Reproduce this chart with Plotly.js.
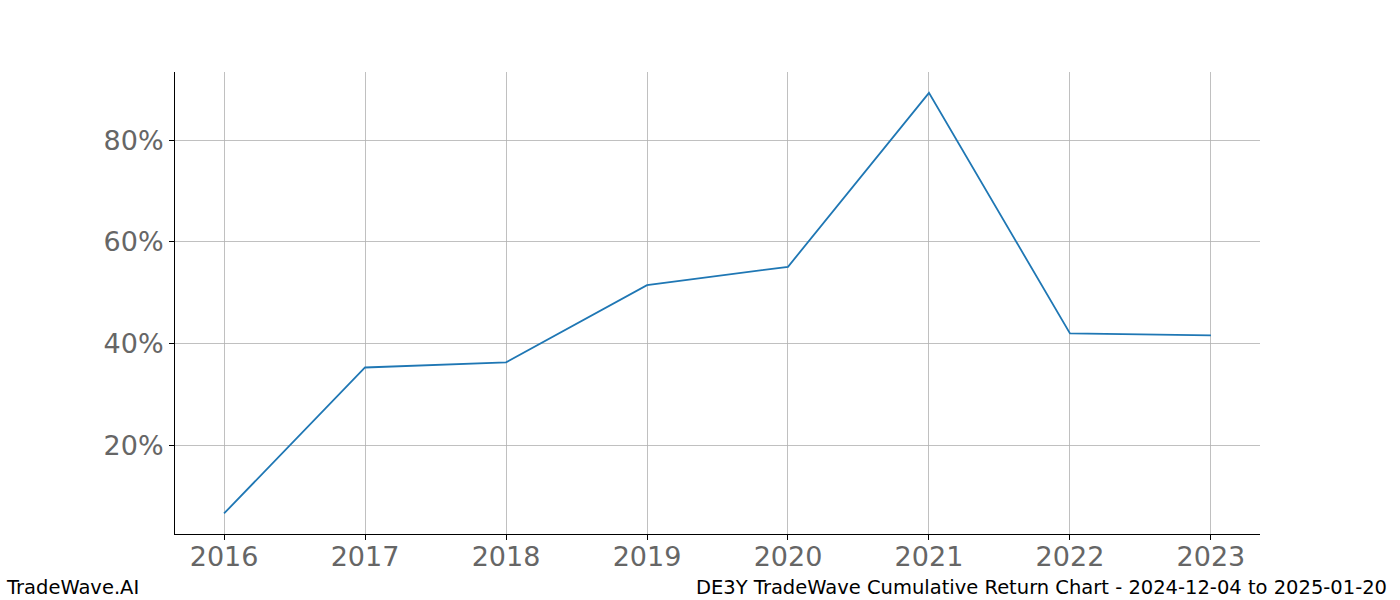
<!DOCTYPE html>
<html>
<head>
<meta charset="utf-8">
<script src="https://cdn.plot.ly/plotly-3.0.1.min.js"></script>
<style>
  body { margin: 0; background: #fff; }
  #chart { width: 1400px; height: 600px; }
</style>
</head>
<body>
<div id="chart"></div>
<script>
// yearly cumulative return points
const years = [2016, 2017, 2018, 2019, 2020, 2021, 2022, 2023];
const cumReturn = [0.066, 0.353, 0.363, 0.515, 0.551, 0.893, 0.420, 0.416];
const yTicks = [0.2, 0.4, 0.6, 0.8];
const leftNote = "TradeWave.AI";
const rightNote = "DE3Y TradeWave Cumulative Return Chart - 2024-12-04 to 2025-01-20";

var data = [{
  x: years,
  y: cumReturn,
  mode: 'lines',
  line: {color: '#1f77b4', width: 1.8},
  hoverinfo: 'skip'
}];

var layout = {
  width: 1400,
  height: 600,
  margin: {l: 175, r: 140, t: 72, b: 66},
  paper_bgcolor: '#ffffff',
  plot_bgcolor: '#ffffff',
  showlegend: false,
  font: {family: 'DejaVu Sans', color: '#666666'},
  xaxis: {
    range: [2015.652, 2023.348],
    tickvals: years,
    ticktext: years.map(String),
    showgrid: true,
    gridcolor: '#b0b0b0',
    gridwidth: 0.8,
    zeroline: false,
    showline: true,
    linecolor: '#000000',
    linewidth: 1,
    ticks: 'outside',
    ticklen: 5,
    tickcolor: '#000000',
    ticklabelstandoff: -6,
    tickfont: {size: 27, color: '#666666'}
  },
  yaxis: {
    range: [0.0256, 0.934],
    tickvals: yTicks,
    tickformat: '.0%',
    showgrid: true,
    gridcolor: '#b0b0b0',
    gridwidth: 0.8,
    zeroline: false,
    showline: true,
    linecolor: '#000000',
    linewidth: 1,
    ticks: 'outside',
    ticklen: 5,
    tickcolor: '#000000',
    tickfont: {size: 27, color: '#666666'}
  },
  annotations: [
    {
      text: leftNote, xref: 'paper', yref: 'paper',
      x: 0, y: 0, xshift: -171, yshift: -53,
      xanchor: 'left', yanchor: 'middle', showarrow: false,
      font: {family: 'DejaVu Sans', size: 19.5, color: '#000000'}
    },
    {
      text: rightNote, xref: 'paper', yref: 'paper',
      x: 1, y: 0, xshift: 129, yshift: -53,
      xanchor: 'right', yanchor: 'middle', showarrow: false,
      font: {family: 'DejaVu Sans', size: 19.5, color: '#000000'}
    }
  ]
};

Plotly.newPlot('chart', data, layout, {staticPlot: true});
</script>
</body>
</html>
